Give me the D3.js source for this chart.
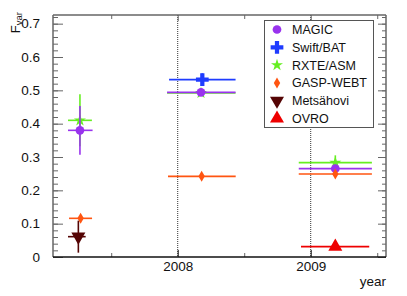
<!DOCTYPE html>
<html>
<head>
<meta charset="utf-8">
<script src="https://cdn.jsdelivr.net/npm/d3@7"></script>
<style>
  body { margin: 0; background: #fff; }
  text { font-family: "Liberation Sans", Arial, sans-serif; }
</style>
</head>
<body>
<svg id="chart" width="407" height="296"></svg>
<script>
// values (year position, x error range, Fvar, y error)
const seriesNames = ['MAGIC', 'Swift/BAT', 'RXTE/ASM', 'GASP-WEBT', 'Metsähovi', 'OVRO'];
const seriesColors = ['#9933ee', '#1f3cff', '#66ee22', '#ff5511', '#550505', '#ee0000'];

const magicX   = [2007.265, 2008.175, 2009.185];
const magicXlo = [2007.175, 2007.920, 2008.910];
const magicXhi = [2007.360, 2008.435, 2009.460];
const magicY   = [0.380, 0.494, 0.265];
const magicErr = [0.073, 0.004, 0.012];

const swiftX   = [2008.185];
const swiftXlo = [2007.935];
const swiftXhi = [2008.435];
const swiftY   = [0.532];
const swiftErr = [0.019];

const rxteX   = [2007.265, 2008.175, 2009.185];
const rxteXlo = [2007.175, 2007.920, 2008.910];
const rxteXhi = [2007.355, 2008.435, 2009.460];
const rxteY   = [0.410, 0.492, 0.283];
const rxteErr = [0.078, 0.003, 0.022];

const gaspX   = [2007.270, 2008.180, 2009.185];
const gaspXlo = [2007.183, 2007.927, 2008.910];
const gaspXhi = [2007.356, 2008.436, 2009.460];
const gaspY   = [0.116, 0.242, 0.249];
const gaspErr = [0.006, 0.005, 0.008];

const metsX   = [2007.253];
const metsXlo = [2007.175];
const metsXhi = [2007.308];
const metsY   = [0.061];
const metsErr = [0.048];

const ovroX   = [2009.185];
const ovroXlo = [2008.927];
const ovroXhi = [2009.440];
const ovroY   = [0.031];
const ovroErr = [0.004];

const yTicks = [0, 0.1, 0.2, 0.3, 0.4, 0.5, 0.6, 0.7];
const xTicks = [2008, 2009];
const xMinor = [2007.5, 2008.5, 2009.5];

const mk = (xs, lo, hi, ys, e) => xs.map((x, i) => ({x: x, xlo: lo[i], xhi: hi[i], y: ys[i], e: e[i]}));
const allData = [
  mk(magicX, magicXlo, magicXhi, magicY, magicErr),
  mk(swiftX, swiftXlo, swiftXhi, swiftY, swiftErr),
  mk(rxteX, rxteXlo, rxteXhi, rxteY, rxteErr),
  mk(gaspX, gaspXlo, gaspXhi, gaspY, gaspErr),
  mk(metsX, metsXlo, metsXhi, metsY, metsErr),
  mk(ovroX, ovroXlo, ovroXhi, ovroY, ovroErr)
];

const pLeft = 53, pRight = 386, pTop = 15, pBottom = 257;
const x = d3.scaleLinear().domain([2007.0624, 2009.566]).range([pLeft, pRight]);
const y = d3.scaleLinear().domain([0, 0.726]).range([pBottom, pTop]);

const svg = d3.select('#chart');
const frameCol = '#666';

// year dividers
svg.selectAll('.vline').data(xTicks).enter().append('line')
  .attr('x1', d => x(d)).attr('x2', d => x(d))
  .attr('y1', pTop).attr('y2', pBottom)
  .attr('stroke', '#333').attr('stroke-width', 1).attr('stroke-dasharray', '1,1');

// minor y ticks every 0.02
const yMinor = d3.range(0, 0.73, 0.02).map(v => +v.toFixed(2));

function styleAxis(g, col) {
  g.select('.domain').remove();
  g.selectAll('line').attr('stroke', col).attr('stroke-width', 1);
  g.selectAll('text').attr('font-size', 13.5).attr('fill', '#111');
}

svg.append('g').attr('transform', `translate(${pLeft},0)`)
  .call(d3.axisLeft(y).tickValues(yMinor).tickSize(-5).tickFormat(''))
  .call(g => styleAxis(g, frameCol));
svg.append('g').attr('transform', `translate(${pLeft},0)`)
  .call(d3.axisLeft(y).tickValues(yTicks).tickSize(-10).tickPadding(13)
    .tickFormat(d => d === 0 ? '0' : d3.format('.1f')(d)))
  .call(g => styleAxis(g, frameCol));
svg.append('g').attr('transform', `translate(${pRight},0)`)
  .call(d3.axisRight(y).tickValues(yMinor).tickSize(-4).tickFormat(''))
  .call(g => styleAxis(g, frameCol));
svg.append('g').attr('transform', `translate(${pRight},0)`)
  .call(d3.axisRight(y).tickValues(yTicks).tickSize(-8).tickFormat(''))
  .call(g => styleAxis(g, frameCol));

svg.append('g').attr('transform', `translate(0,${pBottom})`)
  .call(d3.axisBottom(x).tickValues(xMinor).tickSize(-4).tickFormat(''))
  .call(g => styleAxis(g, frameCol));
svg.append('g').attr('transform', `translate(0,${pBottom})`)
  .call(d3.axisBottom(x).tickValues(xTicks).tickSize(-7).tickPadding(4).tickFormat(d3.format('d')))
  .call(g => styleAxis(g, '#111'));
svg.append('g').attr('transform', `translate(0,${pTop})`)
  .call(d3.axisTop(x).tickValues(xMinor).tickSize(-4).tickFormat(''))
  .call(g => styleAxis(g, frameCol));
svg.append('g').attr('transform', `translate(0,${pTop})`)
  .call(d3.axisTop(x).tickValues(xTicks).tickSize(-6).tickFormat(''))
  .call(g => styleAxis(g, frameCol));

// frame
svg.append('line').attr('x1', pLeft).attr('x2', pRight).attr('y1', pTop).attr('y2', pTop)
  .attr('stroke', frameCol).attr('stroke-width', 1.5);
svg.append('line').attr('x1', pRight).attr('x2', pRight).attr('y1', pTop).attr('y2', pBottom)
  .attr('stroke', frameCol).attr('stroke-width', 1.5);
svg.append('line').attr('x1', pLeft).attr('x2', pLeft).attr('y1', pTop).attr('y2', pBottom)
  .attr('stroke', frameCol).attr('stroke-width', 1.5);
svg.append('line').attr('x1', pLeft).attr('x2', pRight).attr('y1', pBottom).attr('y2', pBottom)
  .attr('stroke', '#111').attr('stroke-width', 1.5);

// marker shapes
const symbols = [
  d3.symbol(d3.symbolCircle, 60),
  d3.symbol(d3.symbolCross, 90),
  d3.symbol(d3.symbolStar, 45),
  null,
  d3.symbol(d3.symbolTriangle, 85),
  d3.symbol(d3.symbolTriangle, 85)
];
const diamond = 'M0,-5.5L3.2,0L0,5.5L-3.2,0Z';

function drawMarker(g, i) {
  const p = g.append('path')
    .attr('d', i === 3 ? diamond : symbols[i]())
    .attr('fill', seriesColors[i]);
  if (i === 4) p.attr('transform', 'rotate(180)');
  return p;
}

// draw in ROOT order so later ones sit on top
const drawOrder = [2, 0, 1, 3, 4, 5];
drawOrder.forEach(i => {
  const g = svg.append('g');
  const pts = allData[i];
  pts.forEach(d => {
    g.append('line')
      .attr('x1', x(d.xlo)).attr('x2', x(d.xhi))
      .attr('y1', y(d.y)).attr('y2', y(d.y))
      .attr('stroke', seriesColors[i]).attr('stroke-width', 1.6);
    g.append('line')
      .attr('x1', x(d.x)).attr('x2', x(d.x))
      .attr('y1', y(d.y - d.e)).attr('y2', y(d.y + d.e))
      .attr('stroke', seriesColors[i]).attr('stroke-width', 1.6);
    const m = g.append('g').attr('transform', `translate(${x(d.x)},${y(d.y)})`);
    drawMarker(m, i);
  });
});

// legend
const legend = svg.append('g');
legend.append('rect')
  .attr('x', 264.5).attr('y', 20.5).attr('width', 109).attr('height', 107)
  .attr('fill', '#fff').attr('stroke', '#555').attr('stroke-width', 1);
seriesNames.forEach((name, i) => {
  const ly = 29.5 + i * 17.8;
  const m = legend.append('g').attr('transform', `translate(277,${ly})`);
  drawMarker(m, i);
  legend.append('text')
    .attr('x', 292).attr('y', ly).attr('dy', '0.36em')
    .attr('font-size', 12.5).attr('fill', '#111')
    .text(name);
});

// axis titles
const yl = svg.append('text')
  .attr('transform', 'translate(20,12) rotate(-90)')
  .attr('text-anchor', 'end').attr('font-size', 13).attr('fill', '#111');
yl.append('tspan').text('F');
yl.append('tspan').attr('font-size', 9.5).attr('dy', 2).text('var');

svg.append('text')
  .attr('x', 386).attr('y', 286)
  .attr('text-anchor', 'end').attr('font-size', 13.5).attr('fill', '#111')
  .text('year');
</script>
</body>
</html>
